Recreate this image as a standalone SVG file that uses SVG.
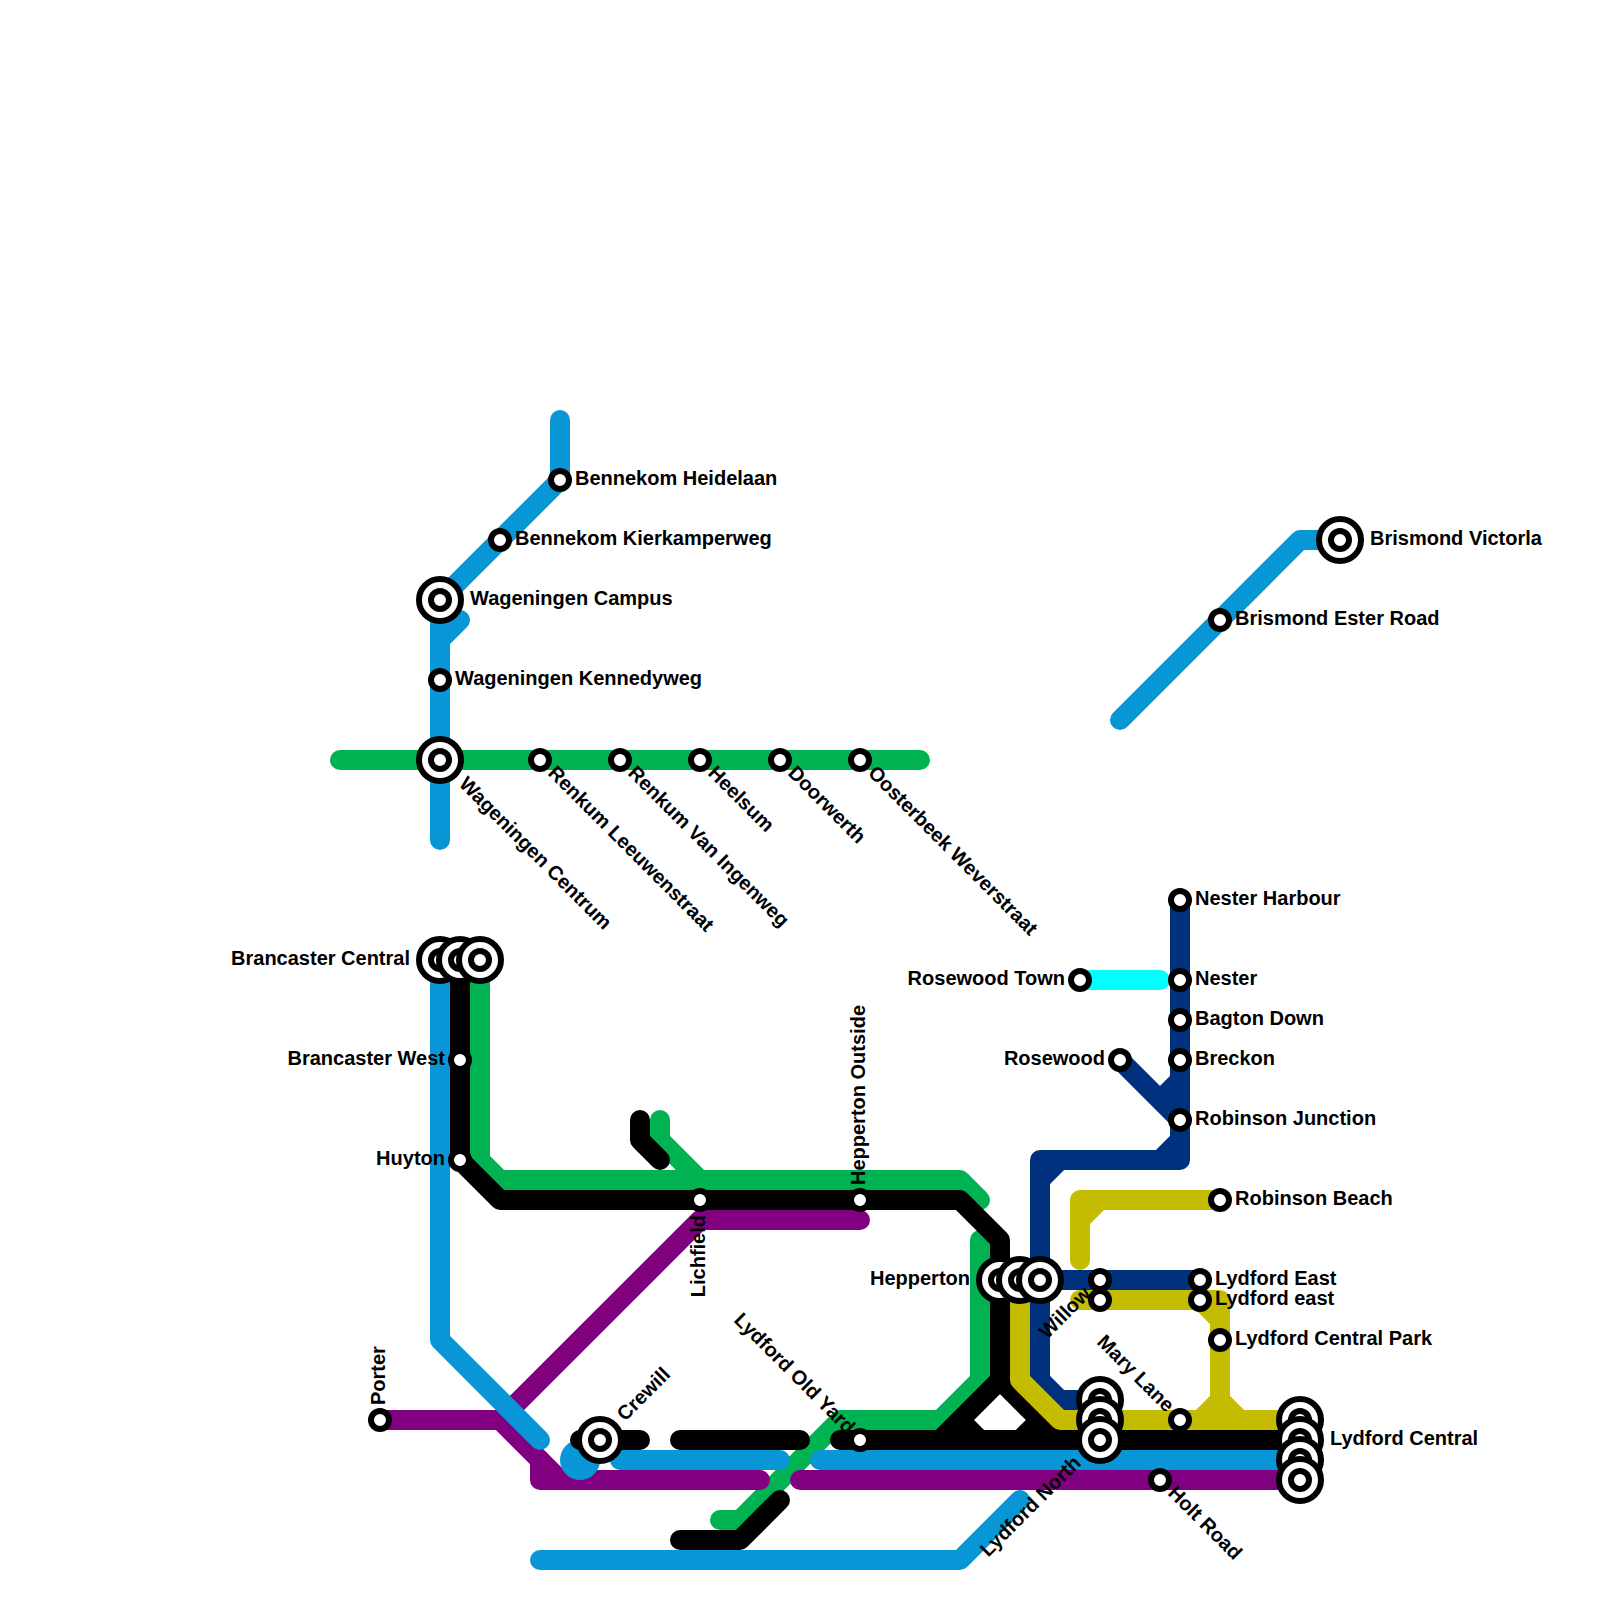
<svg xmlns="http://www.w3.org/2000/svg" width="1600" height="1600" viewBox="0 0 1600 1600">
<style>
.l{fill:none;stroke-width:20;stroke-linecap:round;stroke-linejoin:round}
.f{fill:none;stroke-width:20;stroke-linecap:butt}
.purple{stroke:#800080}.blue{stroke:#0896d7}.navy{stroke:#00317f}.olive{stroke:#c4bc00}.green{stroke:#00b251}.black{stroke:#000}.cyan{stroke:#0ff}
.s{fill:#fff;stroke:#000;stroke-width:6}
text{font-family:"Liberation Sans",Arial,sans-serif;font-weight:700;font-size:20px;fill:#000}
.e{text-anchor:end}
</style>
<defs>
<circle id="st" class="s" r="9"/>
<g id="ic"><circle class="s" r="21"/><circle class="s" r="9"/></g>
</defs>
<rect width="1600" height="1600" fill="#fff"/>
<g id="connectors">
<path class="l green" d="M340 760H920"/>
<path class="l green" d="M480 960V1160L500 1180H960L980 1200"/>
<path class="l green" d="M660 1120V1140L700 1180"/>
<path class="l green" d="M720 1520H740L840 1420H940L980 1380V1240"/>
<path class="l purple" d="M380 1420H500L560 1480"/>
<path class="l purple" d="M540 1460V1480H760"/>
<path class="l purple" d="M860 1220H700L510 1410"/>
<path class="l purple" d="M800 1480H1300"/>
<path class="l blue" d="M560 420V480L450 590"/>
<path class="l blue" d="M440 620V840"/>
<path class="l blue" d="M460 620L440 640"/>
<path class="l blue" d="M440 960V1340L540 1440"/>
<circle cx="580" cy="1460" r="20" fill="#0896d7"/>
<path class="l blue" d="M620 1460H780"/>
<path class="l blue" d="M820 1460H1300"/>
<path class="l blue" d="M540 1560H960L1020 1500"/>
<path class="l blue" d="M1120 720L1300 540H1340"/>
<path class="l black" d="M460 960V1160L500 1200H960L1000 1240V1380L940 1440"/>
<path class="l black" d="M1000 1380L1060 1440"/>
<path class="f black" d="M960 1420L980 1440M1040 1420L1020 1440"/>
<path class="l black" d="M840 1440H1300"/>
<path class="l black" d="M640 1120V1140L660 1160"/>
<path class="l black" d="M580 1440H640"/>
<path class="l black" d="M680 1440H800"/>
<path class="l black" d="M680 1540H740L780 1500"/>
<path class="l navy" d="M1180 900V1160H1040V1380L1060 1400H1100"/>
<path class="f navy" d="M1180 1140L1160 1160M1040 1180L1060 1160M1180 1080L1160 1100"/>
<path class="l navy" d="M1120 1060L1180 1120"/>
<path class="l navy" d="M1040 1280H1200"/>
<path class="l olive" d="M1220 1200H1080V1260"/>
<path class="f olive" d="M1100 1200L1080 1220"/>
<path class="l olive" d="M1020 1280V1380L1060 1420H1300"/>
<path class="l olive" d="M1080 1300H1220V1400"/>
<path class="f olive" d="M1200 1300L1220 1320M1220 1400L1200 1420M1220 1400L1240 1420"/>
<path class="l cyan" d="M1080 980H1160"/>
</g>
<g id="n-bennekom-heidelaan"><use href="#st" x="560" y="480"/><text x="575" y="485">Bennekom Heidelaan</text></g>
<g id="n-bennekom-kierkamperweg"><use href="#st" x="500" y="540"/><text x="515" y="545">Bennekom Kierkamperweg</text></g>
<g id="n-wageningen-campus"><use href="#ic" x="440" y="600"/><text x="470" y="605">Wageningen Campus</text></g>
<g id="n-wageningen-kennedyweg"><use href="#st" x="440" y="680"/><text x="455" y="685">Wageningen Kennedyweg</text></g>
<g id="n-wageningen-centrum"><use href="#ic" x="440" y="760"/><text transform="translate(458 785) rotate(45)">Wageningen Centrum</text></g>
<g id="n-renkum-leeuwenstraat"><use href="#st" x="540" y="760"/><text transform="translate(547 774) rotate(45)">Renkum Leeuwenstraat</text></g>
<g id="n-renkum-van-ingenweg"><use href="#st" x="620" y="760"/><text transform="translate(627 774) rotate(45)">Renkum Van Ingenweg</text></g>
<g id="n-heelsum"><use href="#st" x="700" y="760"/><text transform="translate(707 774) rotate(45)">Heelsum</text></g>
<g id="n-doorwerth"><use href="#st" x="780" y="760"/><text transform="translate(787 774) rotate(45)">Doorwerth</text></g>
<g id="n-oosterbeek-weverstraat"><use href="#st" x="860" y="760"/><text transform="translate(867 774) rotate(45)">Oosterbeek Weverstraat</text></g>
<g id="n-brancaster-central"><use href="#ic" x="440" y="960"/><use href="#ic" x="460" y="960"/><use href="#ic" x="480" y="960"/><text class="e" x="410" y="965">Brancaster Central</text></g>
<g id="n-brancaster-west"><use href="#st" x="460" y="1060"/><text class="e" x="445" y="1065">Brancaster West</text></g>
<g id="n-huyton"><use href="#st" x="460" y="1160"/><text class="e" x="445" y="1165">Huyton</text></g>
<g id="n-porter"><use href="#st" x="380" y="1420"/><text transform="translate(385 1405) rotate(-90)">Porter</text></g>
<g id="n-crewill"><use href="#ic" x="600" y="1440"/><text transform="translate(625 1422) rotate(-45)">Crewill</text></g>
<g id="n-lichfield"><use href="#st" x="700" y="1200"/><text class="e" transform="translate(705 1215) rotate(-90)">Lichfield</text></g>
<g id="n-hepperton-outside"><use href="#st" x="860" y="1200"/><text transform="translate(865 1185) rotate(-90)">Hepperton Outside</text></g>
<g id="n-lydford-old-yard"><use href="#st" x="860" y="1440"/><text class="e" transform="translate(847 1435) rotate(45)">Lydford Old Yard</text></g>
<g id="n-hepperton"><use href="#ic" x="1000" y="1280"/><use href="#ic" x="1020" y="1280"/><use href="#ic" x="1040" y="1280"/><text class="e" x="970" y="1285">Hepperton</text></g>
<g id="n-rosewood-town"><use href="#st" x="1080" y="980"/><text class="e" x="1065" y="985">Rosewood Town</text></g>
<g id="n-rosewood"><use href="#st" x="1120" y="1060"/><text class="e" x="1105" y="1065">Rosewood</text></g>
<g id="n-nester-harbour"><use href="#st" x="1180" y="900"/><text x="1195" y="905">Nester Harbour</text></g>
<g id="n-nester"><use href="#st" x="1180" y="980"/><text x="1195" y="985">Nester</text></g>
<g id="n-bagton-down"><use href="#st" x="1180" y="1020"/><text x="1195" y="1025">Bagton Down</text></g>
<g id="n-breckon"><use href="#st" x="1180" y="1060"/><text x="1195" y="1065">Breckon</text></g>
<g id="n-robinson-junction"><use href="#st" x="1180" y="1120"/><text x="1195" y="1125">Robinson Junction</text></g>
<g id="n-robinson-beach"><use href="#st" x="1220" y="1200"/><text x="1235" y="1205">Robinson Beach</text></g>
<g id="n-willow"><use href="#st" x="1100" y="1280"/><use href="#st" x="1100" y="1300"/><text class="e" transform="translate(1092 1295) rotate(-45)">Willow</text></g>
<g id="n-lydford-east"><use href="#st" x="1200" y="1280"/><text x="1215" y="1285">Lydford East</text></g>
<g id="n-lydford-east-2"><use href="#st" x="1200" y="1300"/><text x="1215" y="1305">Lydford east</text></g>
<g id="n-lydford-central-park"><use href="#st" x="1220" y="1340"/><text x="1235" y="1345">Lydford Central Park</text></g>
<g id="n-mary-lane"><use href="#st" x="1180" y="1420"/><text class="e" transform="translate(1166 1413) rotate(45)">Mary Lane</text></g>
<g id="n-holt-road"><use href="#st" x="1160" y="1480"/><text transform="translate(1167 1494) rotate(45)">Holt Road</text></g>
<g id="n-lydford-north"><use href="#ic" x="1100" y="1400"/><use href="#ic" x="1100" y="1420"/><use href="#ic" x="1100" y="1440"/><text class="e" transform="translate(1082 1464) rotate(-45)">Lydford North</text></g>
<g id="n-lydford-central"><use href="#ic" x="1300" y="1420"/><use href="#ic" x="1300" y="1440"/><use href="#ic" x="1300" y="1460"/><use href="#ic" x="1300" y="1480"/><text x="1330" y="1445">Lydford Central</text></g>
<g id="n-brismond-ester-road"><use href="#st" x="1220" y="620"/><text x="1235" y="625">Brismond Ester Road</text></g>
<g id="n-brismond-victoria"><use href="#ic" x="1340" y="540"/><text x="1370" y="545">Brismond Victorla</text></g>
</svg>
